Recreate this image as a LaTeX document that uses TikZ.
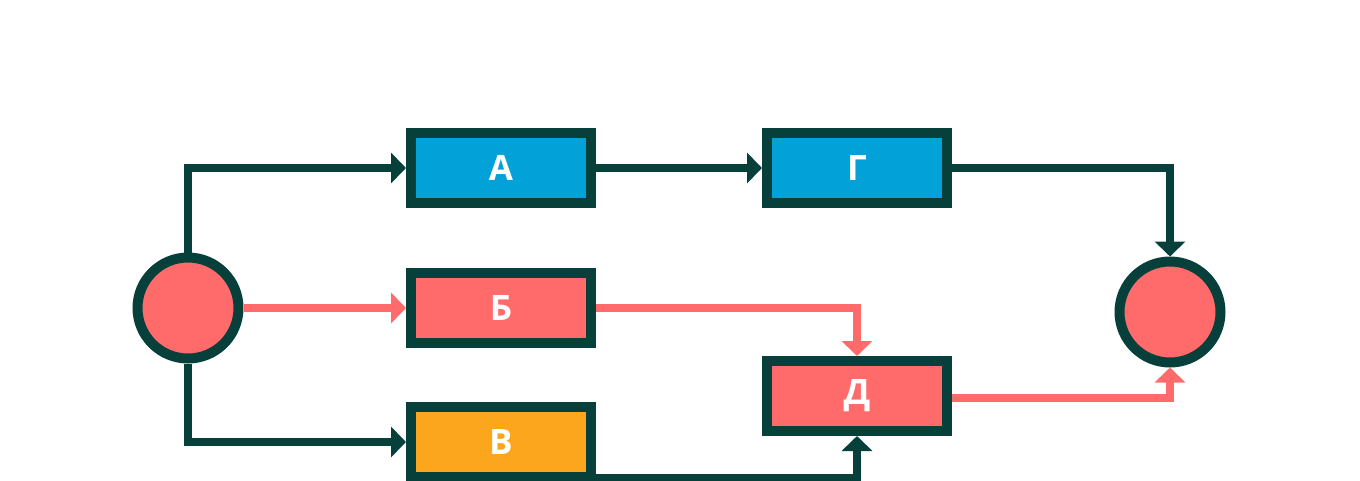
\documentclass[tikz,border=0pt]{standalone}
\usepackage{fontspec}
\setmainfont{Open Sans}
\usetikzlibrary{arrows.meta,calc}
\definecolor{dk}{HTML}{07403B}
\definecolor{bl}{HTML}{02A2D9}
\definecolor{rd}{HTML}{FF6B6B}
\definecolor{og}{HTML}{FCA61E}
\tikzset{
  box/.style={draw=dk,line width=10pt,minimum width=180pt,minimum height=70pt,inner sep=0pt,
    text=white,font=\fontsize{35}{35}\selectfont\bfseries},
  evt/.style={circle,draw=dk,fill=rd,line width=10pt,minimum size=101pt,inner sep=0pt},
  dkarr/.style={draw=dk,line width=8pt,-{Triangle[length=15pt,width=30pt]}},
  rdarr/.style={draw=rd,line width=8pt,-{Triangle[length=15pt,width=30pt]}},
}
\begin{document}
\begin{tikzpicture}[x=1pt,y=-1pt]
\useasboundingbox (0,0) rectangle (1360,480);
\node[evt] (l) at (188,308) {};
\node[evt] (r) at (1170,312) {};
\node[box,fill=bl] (a) at (501,168) {А};
\node[box,fill=rd] (b) at (501,308) {Б};
\node[box,fill=og] (v) at (501,442) {В};
\node[box,fill=bl] (g) at (857,168) {Г};
\node[box,fill=rd] (d) at (857,396) {Д};
\draw[dkarr] (l.north) |- (a.west);
\draw[rdarr] (l.east) -- (b.west);
\draw[dkarr] (l.south) |- (v.west);
\draw[dkarr] (a.east) -- (g.west);
\draw[dkarr] (g.east) -| (r.north);
\draw[rdarr] (b.east) -| (d.north);
\draw[rdarr] ([yshift=-2pt]d.east) -| (r.south);
\draw[dkarr] ([yshift=4pt]v.south east) -| (d.south);
\end{tikzpicture}
\end{document}
